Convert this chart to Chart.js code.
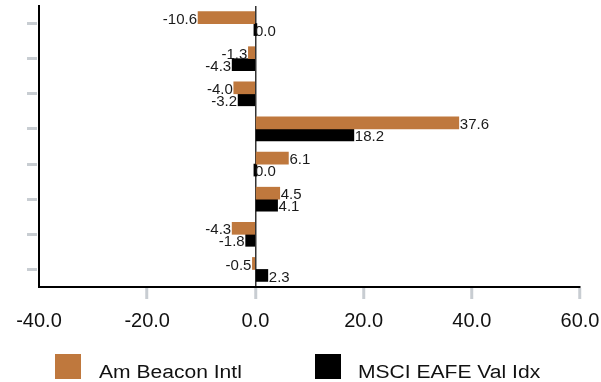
<!DOCTYPE html>
<html>
<head>
<meta charset="utf-8">
<script src="https://cdn.jsdelivr.net/npm/chart.js@4/dist/chart.umd.min.js"></script>
<style>
    html, body { margin: 0; padding: 0; background: #fff; }
    #quadro { position: relative; width: 601px; height: 382px; overflow: hidden; }
    #grafico { position: absolute; left: 0; top: 0; }
    .legenda-caixa { position: absolute; width: 26px; height: 25px; top: 354px; }
    .legenda-texto {
        position: absolute; top: 363px; font: 18px 'Liberation Sans', Arial, sans-serif;
        line-height: 18px; color: #111; white-space: nowrap;
        transform: scaleX(1.17); transform-origin: left center;
    }
</style>
</head>
<body>
<div id="quadro">
    <canvas id="grafico" width="601" height="382"></canvas>
    <div id="legenda"></div>
</div>
<script>
// dados do grafico
const categorias = ['1', '2', '3', '4', '5', '6', '7', '8'];
const nomesSeries = ['Am Beacon Intl', 'MSCI EAFE Val Idx'];
const valoresFundo = [-10.6, -1.3, -4.0, 37.6, 6.1, 4.5, -4.3, -0.5];
const valoresIndice = [0.0, -4.3, -3.2, 18.2, 0.0, 4.1, -1.8, 2.3];
const ticksEixoX = [-40, -20, 0, 20, 40, 60];

const corFundo = '#bf783d';
const corIndice = '#000000';
const cinzaTick = '#c8cdd2';
const FONTE = "'Liberation Sans', Arial, sans-serif";

// rotulos com o valor na ponta de cada barra
const rotulosBarras = {
    id: 'rotulosBarras',
    afterDatasetsDraw(chart) {
        const ctx = chart.ctx;
        ctx.save();
        ctx.font = '15px ' + FONTE;
        ctx.fillStyle = '#1a1a1a';
        ctx.textBaseline = 'middle';
        chart.data.datasets.forEach((ds, d) => {
            const meta = chart.getDatasetMeta(d);
            meta.data.forEach((barra, i) => {
                const v = ds.data[i];
                const texto = v.toFixed(1);
                if (v < 0) {
                    ctx.textAlign = 'right';
                    ctx.fillText(texto, barra.x - 1, barra.y + 2);
                } else {
                    ctx.textAlign = 'left';
                    ctx.fillText(texto, barra.x + 1, barra.y + 2);
                }
            });
        });
        ctx.restore();
    }
};

new Chart(document.getElementById('grafico'), {
    type: 'bar',
    data: {
        labels: categorias,
        datasets: [
            { label: nomesSeries[0], data: valoresFundo, backgroundColor: corFundo },
            { label: nomesSeries[1], data: valoresIndice, backgroundColor: corIndice }
        ]
    },
    options: {
        indexAxis: 'y',
        responsive: false,
        animation: false,
        barThickness: 12,
        minBarLength: 3,
        layout: { padding: { top: 6, right: 0, bottom: 39, left: 0 } },
        plugins: {
            legend: { display: false },
            tooltip: { enabled: false }
        },
        scales: {
            x: {
                min: -40,
                max: 60,
                afterBuildTicks: (eixo) => {
                    eixo.ticks = ticksEixoX.map(v => ({ value: v }));
                },
                // margem fixa para o ultimo rotulo do eixo
                afterFit: (eixo) => {
                    eixo.paddingRight = 21;
                    eixo.paddingLeft = 0;
                },
                ticks: {
                    color: '#111',
                    padding: 10,
                    maxRotation: 0,
                    font: { family: FONTE, size: 20 },
                    callback: (v) => Number(v).toFixed(1)
                },
                grid: {
                    drawOnChartArea: true,
                    tickLength: 12,
                    tickWidth: 3,
                    color: (c) => (c.tick && c.tick.value === 0) ? '#333' : 'rgba(0,0,0,0)',
                    lineWidth: 1.5,
                    tickColor: (c) => c.index === 0 ? 'rgba(0,0,0,0)' : cinzaTick
                },
                border: { display: true, color: '#000', width: 2 }
            },
            y: {
                afterFit: (eixo) => { eixo.width = 39; },
                ticks: { display: false },
                grid: {
                    offset: false,
                    drawOnChartArea: false,
                    tickLength: 12,
                    tickWidth: 3,
                    tickColor: cinzaTick,
                    tickBorderDash: [10, 4]
                },
                border: { display: true, color: '#000', width: 2 }
            }
        }
    },
    plugins: [rotulosBarras]
});

// legenda abaixo do grafico
const legenda = document.getElementById('legenda');
const posicoesLegenda = [[55, 99], [315, 358]];
[corFundo, corIndice].forEach((cor, i) => {
    const caixa = document.createElement('div');
    caixa.className = 'legenda-caixa';
    caixa.style.left = posicoesLegenda[i][0] + 'px';
    caixa.style.background = cor;
    const texto = document.createElement('span');
    texto.className = 'legenda-texto';
    texto.style.left = posicoesLegenda[i][1] + 'px';
    texto.textContent = nomesSeries[i];
    legenda.appendChild(caixa);
    legenda.appendChild(texto);
});
</script>
</body>
</html>
